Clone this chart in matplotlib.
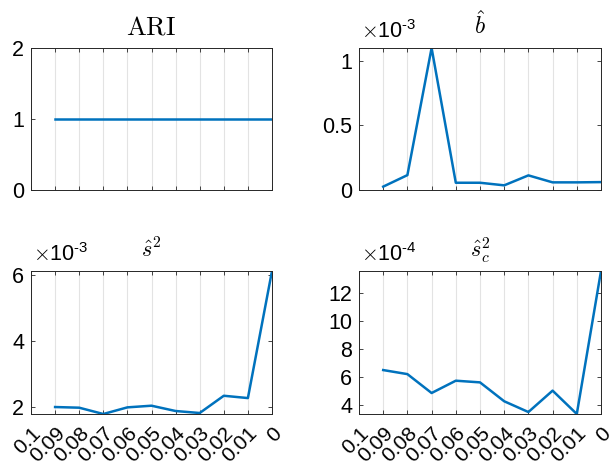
import matplotlib
matplotlib.use("Agg")
import matplotlib.pyplot as plt
from matplotlib.ticker import FuncFormatter

plt.rcParams['font.family'] = ['Liberation Sans', 'DejaVu Sans']
plt.rcParams['mathtext.fontset'] = 'cm'

# x positions (tick labels), data starts at 0.09
x_ticks = [0.1, 0.09, 0.08, 0.07, 0.06, 0.05, 0.04, 0.03, 0.02, 0.01, 0]
x_labels = ['0.1', '0.09', '0.08', '0.07', '0.06', '0.05', '0.04', '0.03', '0.02', '0.01', '0']
x_data = [0.09, 0.08, 0.07, 0.06, 0.05, 0.04, 0.03, 0.02, 0.01, 0]

ari = [1, 1, 1, 1, 1, 1, 1, 1, 1, 1]
b_hat = [0.026, 0.115, 1.097, 0.056, 0.056, 0.036, 0.113, 0.059, 0.059, 0.061]   # x 1e-3
s2_hat = [2.01, 1.99, 1.80, 2.00, 2.05, 1.89, 1.83, 2.35, 2.28, 6.11]             # x 1e-3
sc2_hat = [6.52, 6.23, 4.88, 5.76, 5.64, 4.29, 3.52, 5.05, 3.38, 13.6]           # x 1e-4

blue = '#0072BD'
W, H = 613, 470
fig = plt.figure(figsize=(W / 100, H / 100), dpi=100)

def box(l, t, r, b):
    return [l / W, 1 - b / H, (r - l) / W, (b - t) / H]

panels = [
    (box(31, 48, 272, 190), ari, 1, r'$\mathrm{ARI}$', 19, None, (0, 2), [0, 1, 2], False),
    (box(359, 48, 601, 190), b_hat, 1e-3, r'$\hat{b}$', 17, '-3', (0, max(b_hat)), [0, 0.5, 1], False),
    (box(31, 271, 272, 414), s2_hat, 1e-3, r'$\hat{s}^2$', 16, '-3', (min(s2_hat), max(s2_hat)), [2, 4, 6], True),
    (box(359, 271, 601, 414), sc2_hat, 1e-4, r'$\hat{s}_c^2$', 16, '-4', (min(sc2_hat), max(sc2_hat)), [4, 6, 8, 10, 12], True),
]

for pos, vals, scale, title, tsize, exp, ylim, yticks, show_x in panels:
    ax = fig.add_axes(pos)
    ax.plot(x_data, [v * scale for v in vals], color=blue, lw=1.8)
    ax.set_xlim(0.1, 0)
    ax.set_ylim(ylim[0] * scale, ylim[1] * scale)
    ax.set_xticks(x_ticks)
    ax.set_yticks([t * scale for t in yticks])
    ax.yaxis.set_major_formatter(FuncFormatter(lambda v, p, s=scale: '%g' % round(v / s, 6)))
    if show_x:
        ax.set_xticklabels(x_labels, rotation=45, ha='right', rotation_mode='anchor')
    else:
        ax.set_xticklabels([])
    ax.grid(axis='x', color='#e3e3e3', lw=0.8)
    ax.set_axisbelow(True)
    ax.tick_params(direction='in', top=True, right=True, length=3, width=0.6,
                   labelsize=15.5, color='#262626')
    ax.tick_params(axis='x', pad=7, labelsize=15)
    ax.tick_params(axis='y', pad=5)
    for sp in ax.spines.values():
        sp.set_color('#262626')
        sp.set_linewidth(0.7)
    ax.set_title(title, fontsize=tsize, pad=10)
    if exp:
        ax.text(0.01, 1.035, r'$\times\mathregular{10^{%s}}$' % exp.replace('-', '\u2010'),
                transform=ax.transAxes, fontsize=15.5, ha='left', va='bottom',
                family='Liberation Sans')

fig.savefig('out.png', dpi=100)
